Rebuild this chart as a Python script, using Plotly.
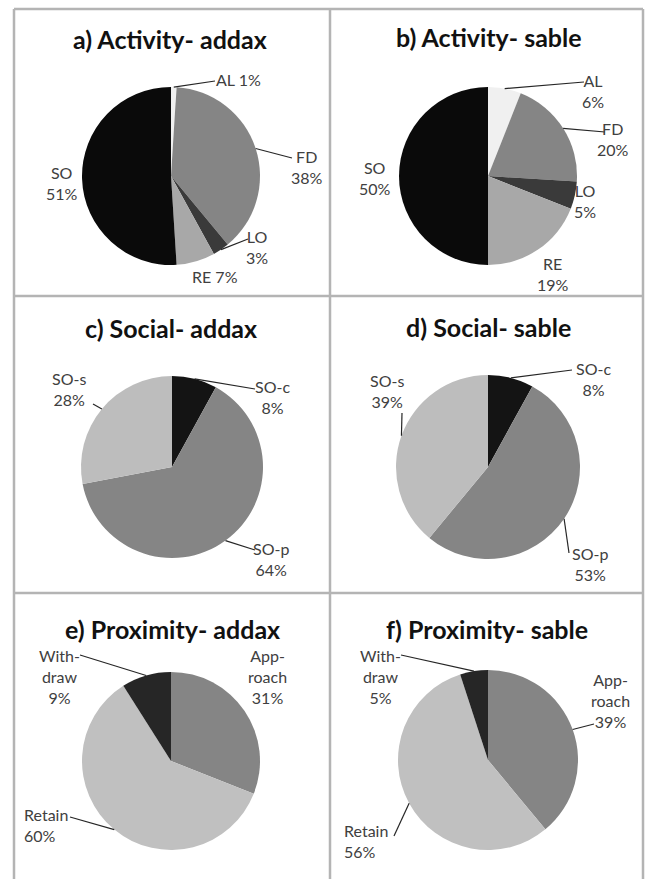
import math
import plotly.graph_objects as go

# ---------------- data ----------------
activity_labels = ["AL", "FD", "LO", "RE", "SO"]
addax_activity = [1, 38, 3, 7, 51]
sable_activity = [6, 20, 5, 19, 50]

social_labels = ["SO-c", "SO-p", "SO-s"]
addax_social = [8, 64, 28]
sable_social = [8, 53, 39]

proximity_labels = ["Approach", "Retain", "Withdraw"]
proximity_text = ["App-<br>roach", "Retain", "With-<br>draw"]
addax_proximity = [31, 60, 9]
sable_proximity = [39, 56, 5]

titles = ["a) Activity- addax", "b) Activity- sable",
          "c) Social- addax", "d) Social- sable",
          "e) Proximity- addax", "f) Proximity- sable"]

# ---------------- styling / layout ----------------
W, H = 645, 879
activity_colors = ["#f0f0f0", "#858585", "#3a3a3a", "#a8a8a8", "#0a0a0a"]
social_colors = ["#141414", "#858585", "#bdbdbd"]
proximity_colors = ["#858585", "#c0c0c0", "#262626"]

LABEL_FONT = dict(family="Lato", size=16, color="#404040")
TITLE_FONT = dict(family="Lato", size=25, color="#111111")

# per-panel: center(px), radius(px), title pos, label specs
# label spec: (x, y, separator, xanchor, leader_end or None)
panels = [
    dict(values=addax_activity, labels=activity_labels, text=activity_labels,
         colors=activity_colors, c=(171, 176), r=89, t=(170, 39),
         lab=[(238, 80, " ", "center", (215, 81)),
              (307, 167, "<br>", "center", (292, 158)),
              (257, 247, "<br>", "center", (248, 239)),
              (215, 277, " ", "center", None),
              (62, 183, "<br>", "center", None)]),
    dict(values=sable_activity, labels=activity_labels, text=activity_labels,
         colors=activity_colors, c=(488, 176), r=89, t=(489, 37),
         lab=[(593, 91, "<br>", "center", (584, 82)),
              (613, 139, "<br>", "center", (605, 132)),
              (585, 201, "<br>", "center", None),
              (553, 274, "<br>", "center", None),
              (375, 178, "<br>", "center", None)]),
    dict(values=addax_social, labels=social_labels, text=social_labels,
         colors=social_colors, c=(172, 467), r=91, t=(171, 328),
         lab=[(272, 397, "<br>", "center", (255, 389)),
              (271, 559, "<br>", "center", (255, 550)),
              (69, 389, "<br>", "center", (93, 404))]),
    dict(values=sable_social, labels=social_labels, text=social_labels,
         colors=social_colors, c=(488, 467), r=92, t=(488, 327),
         lab=[(593, 379, "<br>", "center", (572, 370)),
              (590, 564, "<br>", "center", (569, 553)),
              (387, 391, "<br>", "center", (402, 413))]),
    dict(values=addax_proximity, labels=proximity_labels, text=proximity_text,
         colors=proximity_colors, c=(171, 761), r=89, t=(172, 629),
         lab=[(267, 676, "<br>", "center", None),
              (22, 825, "<br>", "left", (70, 817)),
              (59, 676, "<br>", "center", (80, 655))]),
    dict(values=sable_proximity, labels=proximity_labels, text=proximity_text,
         colors=proximity_colors, c=(488, 760), r=90, t=(487, 629),
         lab=[(610, 700, "<br>", "center", (594, 724)),
              (342, 841, "<br>", "left", (394, 836)),
              (380, 676, "<br>", "center", (401, 655))]),
]


def px(x):
    return x / W


def py(y):
    return 1 - y / H


fig = go.Figure()
annotations = []
shapes = []

for i, p in enumerate(panels):
    cx, cy = p["c"]
    r = p["r"]
    fig.add_trace(go.Pie(
        values=p["values"], labels=p["labels"],
        marker=dict(colors=p["colors"], line=dict(width=0)),
        sort=False, direction="clockwise", rotation=0,
        textinfo="none", hoverinfo="label+percent", showlegend=False,
        domain=dict(x=[px(cx - r), px(cx + r)], y=[py(cy + r), py(cy - r)]),
    ))
    annotations.append(dict(
        x=px(p["t"][0]), y=py(p["t"][1]), xref="paper", yref="paper",
        text="<b>%s</b>" % titles[i], showarrow=False, font=TITLE_FONT,
        xanchor="center", yanchor="middle"))
    total = sum(p["values"])
    cum = 0
    for k, v in enumerate(p["values"]):
        mid = (cum + v / 2) / total * 2 * math.pi
        cum += v
        lx, ly, sep, xa, lead = p["lab"][k]
        txt = "%s%s%d%%" % (p["text"][k], sep, v)
        annotations.append(dict(
            x=px(lx), y=py(ly), xref="paper", yref="paper", text=txt,
            showarrow=False, font=LABEL_FONT, xanchor=xa, yanchor="middle",
            align=xa if xa != "center" else "center"))
        if lead is not None:
            sx = cx + r * math.sin(mid)
            sy = cy - r * math.cos(mid)
            shapes.append(dict(type="line", xref="paper", yref="paper",
                               x0=px(sx), y0=py(sy), x1=px(lead[0]), y1=py(lead[1]),
                               line=dict(color="#262626", width=1.2)))

# grid borders
border = dict(color="#b4b4b4", width=2.5)
for xv in [14, 330, 643]:
    shapes.append(dict(type="line", xref="paper", yref="paper",
                       x0=px(xv), x1=px(xv), y0=py(9), y1=py(882), line=border))
for yv in [9, 296, 593]:
    shapes.append(dict(type="line", xref="paper", yref="paper",
                       x0=px(14), x1=px(643), y0=py(yv), y1=py(yv), line=border))

fig.update_layout(
    width=W, height=H, margin=dict(l=0, r=0, t=0, b=0),
    paper_bgcolor="white", plot_bgcolor="white",
    annotations=annotations, shapes=shapes,
)

fig.write_html("out.html")
